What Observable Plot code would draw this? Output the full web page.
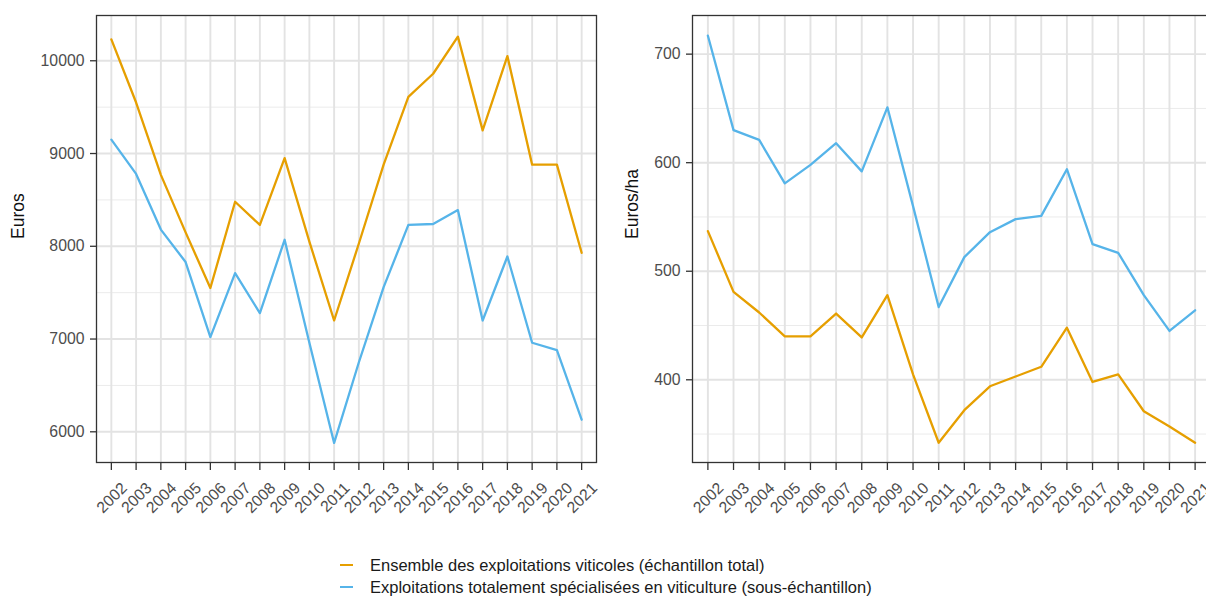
<!DOCTYPE html>
<html>
<head>
<meta charset="utf-8">
<script src="https://cdn.jsdelivr.net/npm/d3@7"></script>
<script src="https://cdn.jsdelivr.net/npm/@observablehq/plot@0.6"></script>
<style>
  html, body { margin: 0; padding: 0; background: #fff; }
  #root { position: relative; width: 1206px; height: 597px; overflow: hidden; font-family: "Liberation Sans", Arial, sans-serif; }
  .panel { position: absolute; top: 0; }
  .legend { position: absolute; left: 338px; top: 554px; font-size: 16.5px; color: #1a1a1a; }
  .legend .row { position: relative; height: 22px; line-height: 22px; padding-left: 32px; white-space: nowrap; }
  .legend .key { position: absolute; left: 2px; top: 10px; width: 13px; height: 2px; }
</style>
</head>
<body>
<div id="root"></div>
<script>
// ---- data ----
const years = [2002,2003,2004,2005,2006,2007,2008,2009,2010,2011,2012,2013,2014,2015,2016,2017,2018,2019,2020,2021];
const seriesNames = [
  "Ensemble des exploitations viticoles (échantillon total)",
  "Exploitations totalement spécialisées en viticulture (sous-échantillon)"
];
const seriesColors = ["#E69F00", "#56B4E9"];

// Left panel: Euros
const eurosTotal = [10230,9550,8770,8150,7550,8480,8230,8950,8050,7200,8030,8880,9610,9860,10260,9250,10050,8880,8880,7930];
const eurosSpec  = [9150,8780,8180,7830,7020,7710,7280,8070,6960,5880,6750,7560,8230,8240,8390,7200,7890,6960,6880,6130];
// Right panel: Euros/ha
const haTotal = [537,481,462,440,440,461,439,478,405,342,372,394,403,412,448,398,405,371,357,342];
const haSpec  = [717,630,621,581,598,618,592,651,560,467,513,536,548,551,594,525,517,478,445,464];

const leftTicks = [6000,7000,8000,9000,10000];
const leftMinor = [6500,7500,8500,9500];
const rightTicks = [400,500,600,700];
const rightMinor = [350,450,550,650];
const leftTitle = "Euros";
const rightTitle = "Euros/ha";

function rows(a, b) {
  const out = [];
  years.forEach((y, i) => out.push({year: y, value: a[i], s: seriesNames[0]}));
  years.forEach((y, i) => out.push({year: y, value: b[i], s: seriesNames[1]}));
  return out;
}

function panel({data, yDomain, ticks, minor, title, width, marginLeft, marginRight, titleDx}) {
  return Plot.plot({
    width, height: 530,
    marginLeft, marginRight, marginTop: 15, marginBottom: 68,
    style: {fontFamily: "Liberation Sans, Arial, sans-serif", background: "transparent"},
    x: {domain: [2001.4, 2021.6], axis: null},
    y: {domain: yDomain, axis: null},
    color: {domain: seriesNames, range: seriesColors},
    marks: [
      Plot.ruleY(minor, {stroke: "#ebebeb", strokeWidth: 1}),
      Plot.ruleY(ticks, {stroke: "#e3e3e3", strokeWidth: 1.9}),
      Plot.ruleX(years, {stroke: "#e3e3e3", strokeWidth: 1.9}),
      Plot.line(data, {x: "year", y: "value", stroke: "s", z: "s", strokeWidth: 2.3}),
      Plot.frame({stroke: "#333", strokeWidth: 1.3}),
      Plot.axisY(ticks, {tickSize: 6, tickPadding: 6, fontSize: 15.8, stroke: "#333", fill: "#4d4d4d", strokeWidth: 1.3, tickFormat: d => String(d), label: null}),
      // x ticks only
      Plot.axisX(years, {tickSize: 8, fill: "none", stroke: "#333", strokeWidth: 1.3, label: null}),
      // x tick labels only, rotated like ggplot angle = 45
      Plot.axisX(years, {tickSize: 0, tickPadding: 23, dx: 13, tickRotate: -45, fontSize: 15.8, stroke: "none", fill: "#4d4d4d", tickFormat: d => String(d), label: null}),
      Plot.text([title], {frameAnchor: "left", dx: titleDx, rotate: -90, fontSize: 17.5, fill: "#111"})
    ]
  });
}

const root = document.getElementById("root");

const left = panel({
  data: rows(eurosTotal, eurosSpec),
  yDomain: [5669, 10488],
  ticks: leftTicks, minor: leftMinor, title: leftTitle,
  width: 610, marginLeft: 96, marginRight: 14, titleDx: -78
});
left.classList.add("panel");
left.style.left = "0px";
root.appendChild(left);

const right = panel({
  data: rows(haTotal, haSpec),
  yDomain: [323.8, 735.6],
  ticks: rightTicks, minor: rightMinor, title: rightTitle,
  width: 610, marginLeft: 82, marginRight: 10, titleDx: -60
});
right.classList.add("panel");
right.style.left = "610px";
root.appendChild(right);

// legend
const legend = document.createElement("div");
legend.className = "legend";
seriesNames.forEach((name, i) => {
  const row = document.createElement("div");
  row.className = "row";
  const key = document.createElement("span");
  key.className = "key";
  key.style.background = seriesColors[i];
  row.appendChild(key);
  row.appendChild(document.createTextNode(name));
  legend.appendChild(row);
});
root.appendChild(legend);
</script>
</body>
</html>
